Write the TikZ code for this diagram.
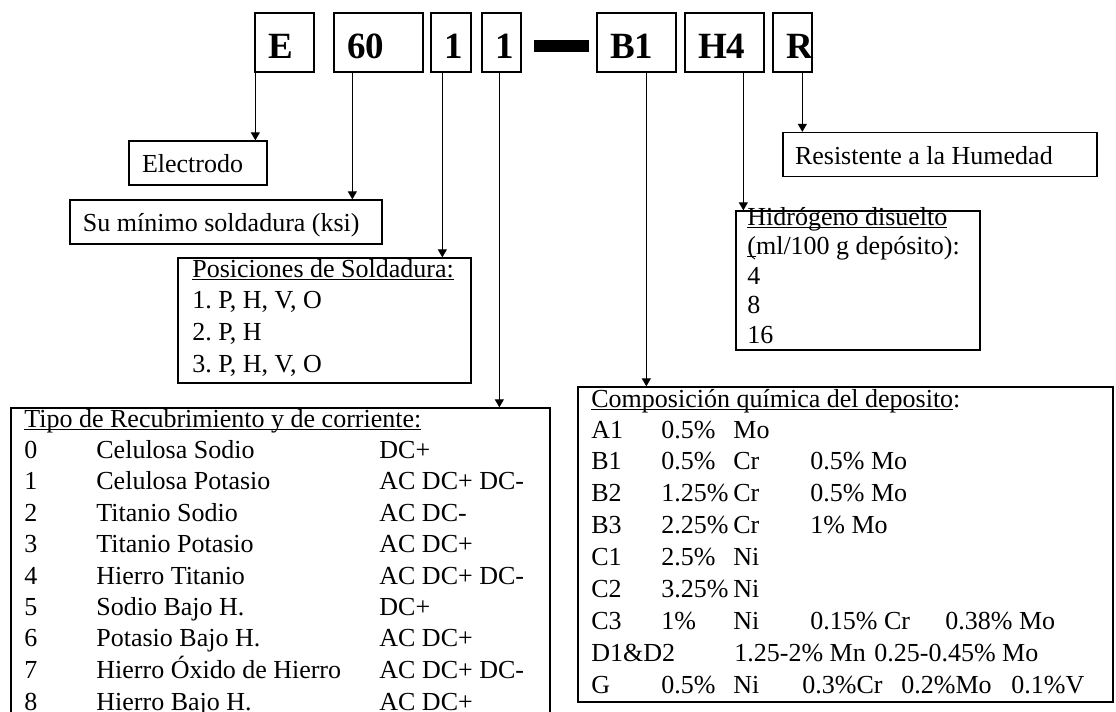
\documentclass[tikz,border=0pt]{standalone}
\usepackage{fontspec}
\setmainfont{Liberation Serif}
\usetikzlibrary{arrows.meta}
\newcommand{\tcell}[2]{\makebox[#1][l]{#2}}
\newcommand{\undl}[1]{\setbox0\hbox{#1}\rlap{\rule[-1.5pt]{\wd0}{0.6pt}}\box0}
\frenchspacing
\begin{document}
\begin{tikzpicture}[x=.5pt,y=-.5pt,
    code/.style={draw,line width=.65pt,inner xsep=6.5pt,inner ysep=0pt,align=flush left,
        minimum height=29.5pt,text height=16.5pt,text depth=0pt,
        font=\fontsize{18.5pt}{20pt}\selectfont\bfseries},
    desc/.style={draw,line width=.65pt,inner xsep=6.5pt,inner ysep=0pt,align=flush left,
        minimum height=22pt,text height=9.5pt,text depth=0pt,
        font=\fontsize{13pt}{15.85pt}\selectfont\frenchspacing},
    panel/.style={draw,line width=.65pt,inner sep=0pt},
    body/.style={anchor=base west,inner sep=0pt,font=\fontsize{13pt}{15.85pt}\selectfont\frenchspacing},
    arr/.style={-{Triangle[width=4.5pt,length=4pt]},line width=.5pt}]

    \useasboundingbox (0,0) rectangle (1116,712);
    \clip (0,0) rectangle (1116,712);

    % designation E6011-B1H4R
    \node[code,text width=16.5pt] (codeE) at (284.5,42.5) {E};
    \node[code,text width=31.5pt] (code60) at (378.5,42.5) {60};
    \node[code,text width=7pt] (codePos) at (451,42.5) {1};
    \node[code,text width=6.5pt] (codeTipo) at (501.5,42.5) {1};
    \fill (534,40) rectangle (589,52);
    \node[code,text width=26.5pt] (codeB1) at (636.5,42.5) {B1};
    \node[code,text width=26.5pt] (codeH4) at (724.5,42.5) {H4};
    \node[code,text width=6.5pt] (codeR) at (792.5,42.5) {R};

    % one line boxes
    \node[desc,text width=56pt] (electrodo) at (198,163) {Electrodo};
    \node[desc,text width=143pt] (sumin) at (226,222) {Su mínimo soldadura (ksi)};
    \node[desc,inner xsep=6pt,text width=145pt] (resist) at (940,154.5) {Resistente a la Humedad};

    % Posiciones
    \node[panel,minimum width=146.5pt,minimum height=62.5pt] (posic) at (324.5,320.5) {};
    \node[body] (posictxt) at (192,277) {\begin{tabular}[t]{@{}l@{}}
        \undl{Posiciones de Soldadura:}\\
        1. P, H, V, O\\
        2. P, H\\
        3. P, H, V, O
    \end{tabular}};

    % Hidrogeno
    \node[panel,minimum width=122pt,minimum height=69.5pt] (hidro) at (858,280.5) {};
    \node[body,font=\fontsize{13pt}{14.75pt}\selectfont] (hidrotxt) at (747,225) {\begin{tabular}[t]{@{}l@{}}
        \undl{Hidrógeno disuelto}\\
        \undl{(}ml/100 g depósito):\\
        4\\
        8\\
        16
    \end{tabular}};

    % Tipo de recubrimiento
    \node[panel,minimum width=269.5pt,minimum height=166pt] (tipo) at (280.5,574) {};
    \node[body,font=\fontsize{13pt}{15.75pt}\selectfont] (tipotxt) at (24,427) {\begin{tabular}[t]{@{}l@{}}
        \undl{Tipo de Recubrimiento y de corriente:}\\[-.25pt]
        \tcell{36pt}{0}\tcell{141.5pt}{Celulosa Sodio}DC+\\
        \tcell{36pt}{1}\tcell{141.5pt}{Celulosa Potasio}AC DC+ DC-\\
        \tcell{36pt}{2}\tcell{141.5pt}{Titanio Sodio}AC DC-\\
        \tcell{36pt}{3}\tcell{141.5pt}{Titanio Potasio}AC DC+\\
        \tcell{36pt}{4}\tcell{141.5pt}{Hierro Titanio}AC DC+ DC-\\
        \tcell{36pt}{5}\tcell{141.5pt}{Sodio Bajo H.}DC+\\
        \tcell{36pt}{6}\tcell{141.5pt}{Potasio Bajo H.}AC DC+\\
        \tcell{36pt}{7}\tcell{141.5pt}{Hierro Óxido de Hierro}AC DC+ DC-\\
        \tcell{36pt}{8}\tcell{141.5pt}{Hierro Bajo H.}AC DC+
    \end{tabular}};

    % Composicion quimica
    \node[panel,minimum width=267.5pt,minimum height=157.5pt] (compo) at (845.5,544.5) {};
    \node[body,font=\fontsize{13pt}{15.95pt}\selectfont] (compotxt) at (591,407) {\begin{tabular}[t]{@{}l@{}}
        \undl{Composición química del deposito}:\\[-.45pt]
        \tcell{35pt}{A1}\tcell{36pt}{0.5\%}Mo\\
        \tcell{35pt}{B1}\tcell{36pt}{0.5\%}\tcell{38.5pt}{Cr}0.5\% Mo\\
        \tcell{35pt}{B2}\tcell{36pt}{1.25\%}\tcell{38.5pt}{Cr}0.5\% Mo\\
        \tcell{35pt}{B3}\tcell{36pt}{2.25\%}\tcell{38.5pt}{Cr}1\% Mo\\
        \tcell{35pt}{C1}\tcell{36pt}{2.5\%}Ni\\
        \tcell{35pt}{C2}\tcell{36pt}{3.25\%}Ni\\
        \tcell{35pt}{C3}\tcell{36pt}{1\%}\tcell{38.5pt}{Ni}\tcell{67.5pt}{0.15\% Cr}0.38\% Mo\\
        \tcell{71.5pt}{D1\&D2}\tcell{70pt}{1.25-2\% Mn}0.25-0.45\% Mo\\
        \tcell{35pt}{G}\tcell{36pt}{0.5\%}\tcell{34.5pt}{Ni}\tcell{49.5pt}{0.3\%Cr}\tcell{55pt}{0.2\%Mo}0.1\%V
    \end{tabular}};

    % connectors
    \coordinate (fromE) at ([xshift=.5pt]codeE.south west);
    \coordinate (from60) at ([xshift=9.5pt]code60.south west);
    \coordinate (fromPos) at ([xshift=6pt]codePos.south west);
    \coordinate (fromTipo) at ([xshift=9pt]codeTipo.south west);
    \coordinate (fromB1) at ([xshift=25pt]codeB1.south west);
    \coordinate (fromH4) at ([xshift=29.5pt]codeH4.south west);
    \coordinate (fromR) at ([xshift=15pt]codeR.south west);
    \draw[arr] (fromE) -- (fromE |- electrodo.north);
    \draw[arr] (from60) -- (from60 |- sumin.north);
    \draw[arr] (fromPos) -- (fromPos |- posic.north);
    \draw[arr] (fromTipo) -- (fromTipo |- tipo.north);
    \draw[arr] (fromB1) -- (fromB1 |- compo.north);
    \draw[arr] (fromH4) -- (fromH4 |- hidro.north);
    \draw[arr] (fromR) -- (fromR |- resist.north);
\end{tikzpicture}
\end{document}
